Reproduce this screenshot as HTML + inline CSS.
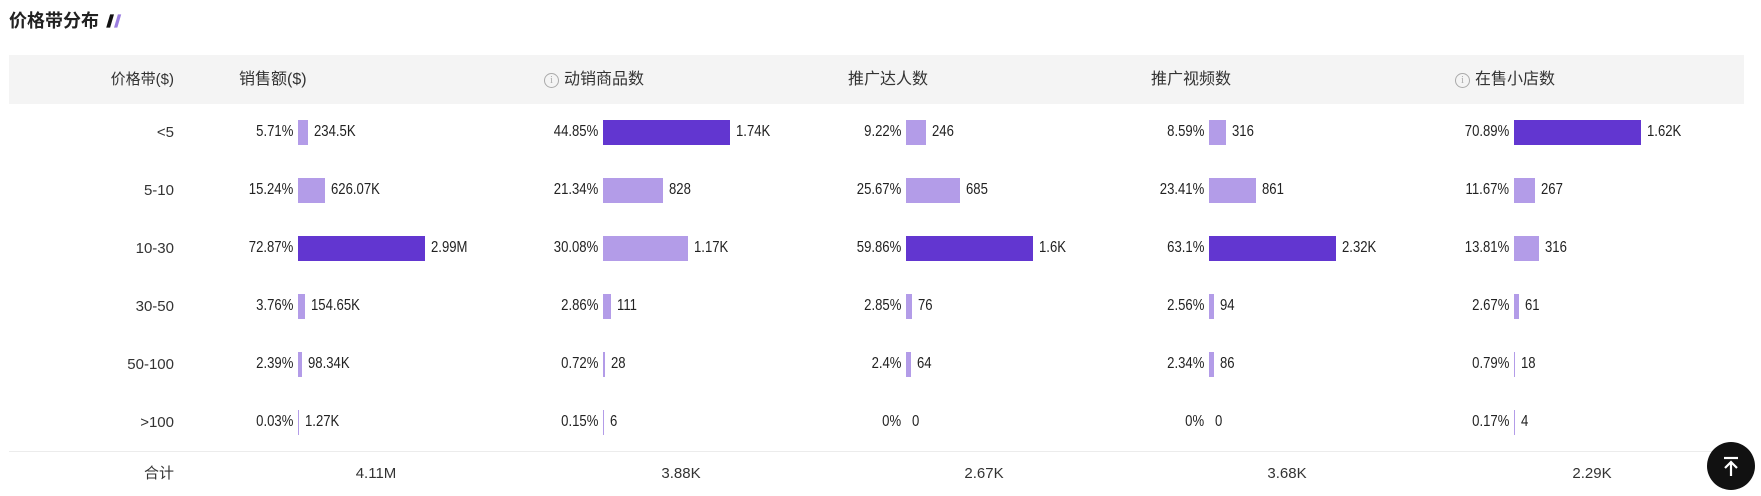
<!DOCTYPE html>
<html><head><meta charset="utf-8">
<style>
html,body{margin:0;padding:0;background:#fff;width:1761px;height:496px;overflow:hidden;position:relative;font-family:"Liberation Sans","Noto Sans CJK SC",sans-serif;color:#222}
.abs{position:absolute;white-space:nowrap}
.title{left:9px;top:10px;font-size:18px;font-weight:bold;line-height:22px}
.band{left:9px;top:55px;width:1735px;height:49px;background:#f4f4f4}
.hdr{font-size:16px;line-height:20px;top:70px;color:#333}
.lbl{font-size:15px;line-height:20px;color:#333;text-align:right;width:150px;left:24px}
.num{font-family:"Liberation Sans Narrow","Liberation Sans","Noto Sans CJK SC",sans-serif;font-size:16px;line-height:20px;color:#222}
.pct{transform:scaleX(0.82);transform-origin:right center}
.val{transform:scaleX(0.82);transform-origin:left center}
.bar{position:absolute;height:25px}
.info{display:inline-block;width:13px;height:13px;border:1px solid #aaa;border-radius:50%;font-size:10px;line-height:13px;text-align:center;color:#aaa;vertical-align:1px;margin-right:5px;font-family:"Liberation Serif",serif}
.div{left:9px;top:451px;width:1735px;height:1px;background:#ececec}
.tot{font-size:15px;line-height:20px;top:464px;color:#333}
.top{left:1707px;top:442px;width:48px;height:48px;border-radius:50%;background:#111}
</style></head><body>
<div class="abs title">价格带分布 <svg width="20" height="16" viewBox="0 0 18 14" style="vertical-align:-2px"><path d="M2 13 L5.5 1 L9 1 L5.5 13Z" fill="#111"/><path d="M9 13 L12.5 1 L15.5 1 L12 13Z" fill="#9b7ee0"/></svg></div>
<div class="abs band"></div>
<div class="abs hdr lbl" style="top:70px">价格带($)</div>
<script>
const bands = ["<5","5-10","10-30","30-50","50-100",">100"];
const metrics = ["销售额($)","动销商品数","推广达人数","推广视频数","在售小店数"];
const hasInfo = [false,true,false,false,true];
const salesPct = [5.71,15.24,72.87,3.76,2.39,0.03];
const salesVal = ["234.5K","626.07K","2.99M","154.65K","98.34K","1.27K"];
const goodsPct = [44.85,21.34,30.08,2.86,0.72,0.15];
const goodsVal = ["1.74K","828","1.17K","111","28","6"];
const kolPct = [9.22,25.67,59.86,2.85,2.4,0];
const kolVal = ["246","685","1.6K","76","64","0"];
const videoPct = [8.59,23.41,63.1,2.56,2.34,0];
const videoVal = ["316","861","2.32K","94","86","0"];
const shopPct = [70.89,11.67,13.81,2.67,0.79,0.17];
const shopVal = ["1.62K","267","316","61","18","4"];
const totals = ["4.11M","3.88K","2.67K","3.68K","2.29K"];
const pcts=[salesPct,goodsPct,kolPct,videoPct,shopPct];
const vals=[salesVal,goodsVal,kolVal,videoVal,shopVal];
const colX=[298,603,906,1209,1514];
const headX=[239,544,848,1151,1455];
const rowY=i=>132+i*58;
const MAXW=127;
const B=document.body;
function mk(cls,txt,x,y){const d=document.createElement('div');d.className='abs '+cls;d.textContent=txt;d.style.left=x+'px';d.style.top=y+'px';B.appendChild(d);return d;}
metrics.forEach((m,c)=>{
  const h=mk('hdr','',headX[c],70);
  
  
  if(hasInfo[c]){const s=document.createElement('span');s.className='info';s.textContent='i';h.appendChild(s);}
  h.appendChild(document.createTextNode(m));
  const t=mk('tot',totals[c],colX[c]+78,464);
  t.style.transform='translateX(-50%)';
  
  
});
bands.forEach((b,r)=>{
  const y=rowY(r);
  const l=mk('lbl',b,24,y-9);
  
  
  pcts.forEach((arr,c)=>{
    const p=arr[r];const mx=Math.max(...arr);
    const w=p>0?Math.max(1,p/mx*MAXW):0;
    const pt=mk('num pct',p+'%',0,y-10);
    pt.style.right=(1761-colX[c]+5)+'px';pt.style.left='auto';
    
    
    const bar=document.createElement('div');bar.className='bar';
    bar.style.left=colX[c]+'px';bar.style.top=(y-12.5)+'px';bar.style.width=w+'px';
    bar.style.background=p===mx?'#6236d0':'#b39ce8';
    
    
    B.appendChild(bar);
    const v=mk('num val',vals[c][r],colX[c]+w+6,y-10);
    
    
  });
});
</script>
<div class="abs div"></div>
<div class="abs lbl" style="top:464px">合计</div>
<div class="abs top"><svg width="48" height="48" viewBox="0 0 48 48"><path d="M17 16 H31" stroke="#fff" stroke-width="2.2"/><path d="M24 34 V20 M18 26 L24 20 L30 26" stroke="#fff" stroke-width="2.2" fill="none"/></svg></div>
</body></html>
